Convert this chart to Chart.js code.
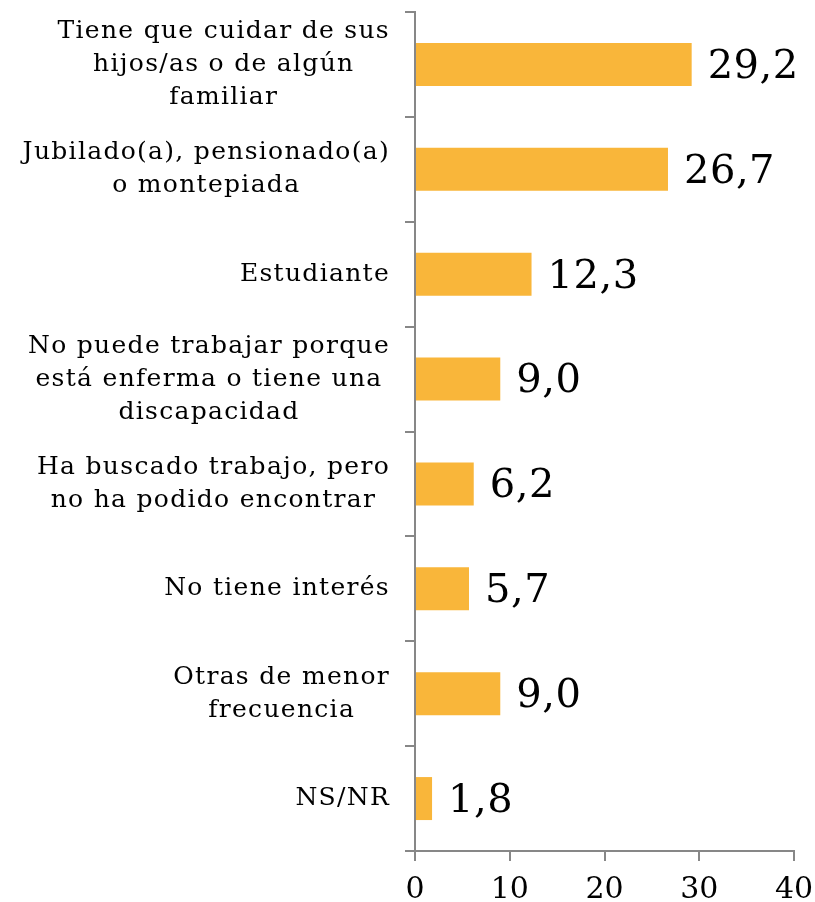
<!DOCTYPE html>
<html>
<head>
<meta charset="utf-8">
<script src="https://cdn.jsdelivr.net/npm/chart.js@4.4.0/dist/chart.umd.min.js"></script>
<style>
  body { margin: 0; background: #fff; }
  canvas { display: block; }
</style>
</head>
<body>
<canvas id="myChart" width="815" height="902"></canvas>
<script>
// categories (one array of lines per bar) and values
const categories = [
    ['Tiene que cuidar de sus', 'hijos/as o de algún', 'familiar'],
    ['Jubilado(a), pensionado(a)', 'o montepiada'],
    ['Estudiante'],
    ['No puede trabajar porque', 'está enferma o tiene una', 'discapacidad'],
    ['Ha buscado trabajo, pero', 'no ha podido encontrar'],
    ['No tiene interés'],
    ['Otras de menor', 'frecuencia'],
    ['NS/NR']
];
const values = [29.2, 26.7, 12.3, 9.0, 6.2, 5.7, 9.0, 1.8];
const xTicks = [0, 10, 20, 30, 40];

const FONT = '"DejaVu Serif", serif';
const AXIS_GREY = '#878787';

// draws the category labels as centred blocks, right aligned next to the axis
const catLabels = {
    id: 'catLabels',
    afterDraw(chart) {
        const ctx = chart.ctx;
        const yScale = chart.scales.y;
        const right = yScale.right - 25;
        const lineH = 33;
        ctx.save();
        ctx.font = '25px ' + FONT;
        ctx.letterSpacing = '1.3px';
        ctx.fillStyle = '#000';
        ctx.textAlign = 'center';
        ctx.textBaseline = 'middle';
        categories.forEach((lines, i) => {
            const y = yScale.getPixelForValue(i);
            let maxW = 0;
            lines.forEach(l => { maxW = Math.max(maxW, ctx.measureText(l).width); });
            const cx = right - maxW / 2;
            const y0 = y - (lines.length - 1) * lineH / 2;
            lines.forEach((l, j) => ctx.fillText(l, cx, y0 + j * lineH));
        });
        ctx.restore();
    }
};

// value labels at the end of each bar
const valueLabels = {
    id: 'valueLabels',
    afterDatasetsDraw(chart) {
        const ctx = chart.ctx;
        const meta = chart.getDatasetMeta(0);
        ctx.save();
        ctx.font = '40px ' + FONT;
        ctx.letterSpacing = '0.5px';
        ctx.fillStyle = '#000';
        ctx.textAlign = 'left';
        ctx.textBaseline = 'middle';
        meta.data.forEach((bar, i) => {
            ctx.fillText(values[i].toFixed(1).replace('.', ','), bar.x + 16, bar.y + 3);
        });
        ctx.restore();
    }
};

new Chart(document.getElementById('myChart').getContext('2d'), {
    type: 'bar',
    data: {
        labels: categories.map(c => c.join(' ')),
        datasets: [{
            data: values,
            backgroundColor: '#F9B63A',
            borderWidth: 0,
            barPercentage: 0.82,
            categoryPercentage: 0.5
        }]
    },
    options: {
        indexAxis: 'y',
        responsive: false,
        animation: false,
        layout: { padding: { top: 12, right: 21, bottom: 0, left: 0 } },
        plugins: {
            legend: { display: false },
            tooltip: { enabled: false }
        },
        scales: {
            x: {
                min: 0,
                max: 40,
                afterBuildTicks: scale => { scale.ticks = xTicks.map(v => ({ value: v })); },
                border: { color: AXIS_GREY, width: 2 },
                grid: { drawOnChartArea: false, color: AXIS_GREY, lineWidth: 2, tickLength: 10 },
                ticks: {
                    color: '#000',
                    padding: 11,
                    maxRotation: 0,
                    font: { family: FONT, size: 30 }
                },
                afterFit: scale => {
                    scale.height = 51;
                    scale.paddingLeft = 0;
                    scale.paddingRight = 0;
                }
            },
            y: {
                border: { color: AXIS_GREY, width: 2 },
                grid: { drawOnChartArea: false, color: AXIS_GREY, lineWidth: 2, tickLength: 10, offset: true },
                ticks: { display: false },
                afterFit: scale => { scale.width = 415; }
            }
        }
    },
    plugins: [catLabels, valueLabels]
});
</script>
</body>
</html>
